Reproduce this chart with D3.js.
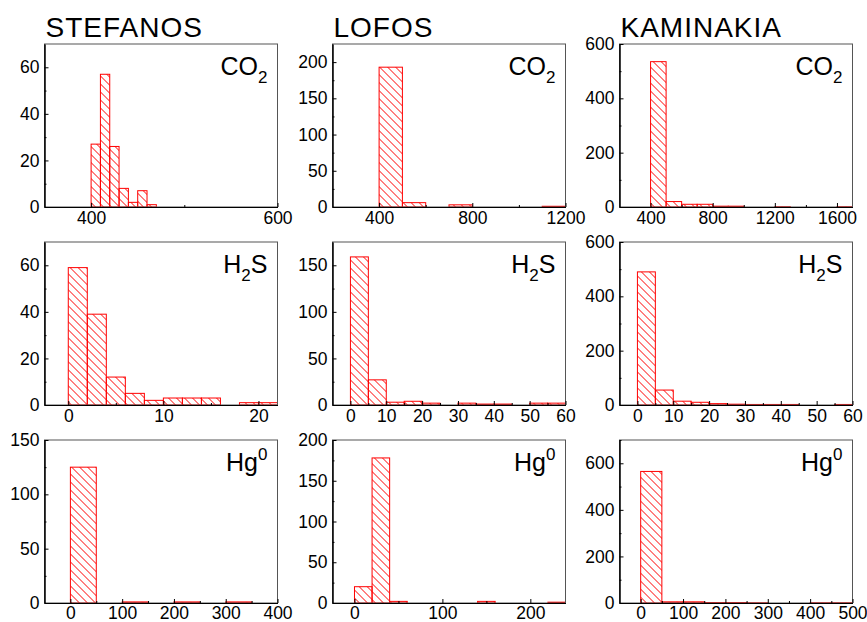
<!DOCTYPE html>
<html>
<head>
<meta charset="utf-8">
<script src="https://cdn.jsdelivr.net/npm/d3@7"></script>
<style>
  body { margin: 0; background: white; }
  svg { font-family: "Liberation Sans", Arial, sans-serif; }
</style>
</head>
<body>
<main></main>
<script>
// sites (columns) and gases (rows)
const sites = ["STEFANOS", "LOFOS", "KAMINAKIA"]
const gases = [["CO", "2", "sub"], ["H", "2", "sub", "S"], ["Hg", "0", "sup"]]

// histogram bins (left edge), bin width and counts
const stefanosCO2Bins = [400, 410, 420, 430, 440, 450, 460]
const stefanosCO2Counts = [27, 57, 26, 8, 2, 7, 1]
const lofosCO2Bins = [400, 500, 700, 1100]
const lofosCO2Counts = [193, 6, 3, 1]
const kaminakiaCO2Bins = [400, 500, 600, 700, 800, 900, 1200, 1600]
const kaminakiaCO2Counts = [535, 20, 10, 10, 3, 3, 1, 1]

const stefanosH2SBins = [0, 2, 4, 6, 8, 10, 12, 14, 18, 20]
const stefanosH2SCounts = [59, 39, 12, 5, 2, 3, 3, 3, 1, 1]
const lofosH2SBins = [0, 5, 10, 15, 20, 30, 35, 40, 50, 55]
const lofosH2SCounts = [159, 27, 3, 4, 2, 2, 1, 1, 2, 2]
const kaminakiaH2SBins = [0, 5, 10, 15, 20, 25, 30, 35, 40, 55]
const kaminakiaH2SCounts = [490, 55, 14, 10, 5, 3, 2, 2, 2, 2]

const stefanosHgBins = [0, 100, 200, 300]
const stefanosHgCounts = [125, 1, 1, 1]
const lofosHgBins = [0, 20, 40, 140, 220]
const lofosHgCounts = [20, 178, 2, 2, 1]
const kaminakiaHgBins = [0, 50, 100, 150, 200, 250, 400, 450]
const kaminakiaHgCounts = [565, 5, 5, 2, 2, 1, 1, 1]

const binWidths = [[10, 100, 100], [2, 5, 5], [50, 20, 50]]

// axis ranges and tick labels
const xDomains = [
    [[350, 600], [200, 1200], [200, 1700]],
    [[-2.5, 22], [-5, 60], [-5, 60]],
    [[-50, 400], [-25, 240], [-50, 500]]
]
const xTicks = [
    [[400, 600], [400, 800, 1200], [400, 800, 1200, 1600]],
    [[0, 10, 20], [0, 10, 20, 30, 40, 50, 60], [0, 10, 20, 30, 40, 50, 60]],
    [[0, 100, 200, 300, 400], [0, 100, 200], [0, 100, 200, 300, 400, 500]]
]
const xMinor = [
    [[500], [600, 1000], [600, 1000, 1400]],
    [[5, 15], [5, 15, 25, 35, 45, 55], [5, 15, 25, 35, 45, 55]],
    [[50, 150, 250, 350], [50, 150], [50, 150, 250, 350, 450]]
]
const yDomains = [[70, 225, 600], [70, 175, 600], [150, 200, 700]]
const yTicks = [
    [[0, 20, 40, 60], [0, 50, 100, 150, 200], [0, 200, 400, 600]],
    [[0, 20, 40, 60], [0, 50, 100, 150], [0, 200, 400, 600]],
    [[0, 50, 100, 150], [0, 50, 100, 150, 200], [0, 200, 400, 600]]
]
const yMinor = [
    [[10, 30, 50], [25, 75, 125, 175], [100, 300, 500]],
    [[10, 30, 50], [25, 75, 125], [100, 300, 500]],
    [[25, 75, 125], [25, 75, 125, 175], [100, 300, 500, 700]]
]

const bins = [
    [stefanosCO2Bins, lofosCO2Bins, kaminakiaCO2Bins],
    [stefanosH2SBins, lofosH2SBins, kaminakiaH2SBins],
    [stefanosHgBins, lofosHgBins, kaminakiaHgBins]
]
const counts = [
    [stefanosCO2Counts, lofosCO2Counts, kaminakiaCO2Counts],
    [stefanosH2SCounts, lofosH2SCounts, kaminakiaH2SCounts],
    [stefanosHgCounts, lofosHgCounts, kaminakiaHgCounts]
]

const svgWidth = 867
const svgHeight = 622

const colLeft = [44.5, 332.5, 619.5]
const rowTop = [44, 242, 440]
const panelWidth = 233
const panelHeight = 163

let svg = d3.select("main")
    .append("svg")
    .attr("width", svgWidth)
    .attr("height", svgHeight)

// red hatch, lines running top-left to bottom-right
let pattern = svg.append("defs")
    .append("pattern")
    .attr("id", "hatch")
    .attr("patternUnits", "userSpaceOnUse")
    .attr("width", 8)
    .attr("height", 8)

pattern.append("path")
    .attr("d", "M-2,-2 L10,10 M-2,6 L2,10 M6,-2 L10,2")
    .attr("stroke", "red")
    .attr("stroke-width", 1)

// site titles
sites.forEach((s, c) => {
    svg.append("text")
        .attr("x", colLeft[c] + 1)
        .attr("y", 37)
        .attr("font-size", 28)
        .attr("letter-spacing", 1)
        .attr("fill", "black")
        .text(s)
})

for (let r = 0; r < 3; r++) {
    for (let c = 0; c < 3; c++) {
        let g = svg.append("g")
            .attr("transform", `translate(${colLeft[c]}, ${rowTop[r]})`)

        let xScale = d3.scaleLinear()
            .domain(xDomains[r][c])
            .range([0, panelWidth])

        let yScale = d3.scaleLinear()
            .domain([0, yDomains[r][c]])
            .range([panelHeight, 0])

        let data = bins[r][c].map((b, i) => ({ x0: b, x1: b + binWidths[r][c], n: counts[r][c][i] }))

        g.selectAll("rect.bar")
            .data(data)
            .enter()
            .append("rect")
            .attr("class", "bar")
            .attr("x", d => xScale(d.x0))
            .attr("y", d => yScale(d.n))
            .attr("width", d => xScale(d.x1) - xScale(d.x0))
            .attr("height", d => yScale(0) - yScale(d.n))
            .attr("fill", "url(#hatch)")
            .attr("stroke", "red")
            .attr("stroke-width", 1)

        // frame
        g.append("rect")
            .attr("width", panelWidth)
            .attr("height", panelHeight)
            .attr("fill", "none")
            .attr("stroke", "#555")
            .attr("stroke-width", 1)

        let fmt = d3.format("d")
        let bottom = g.append("g")
            .attr("transform", `translate(0, ${panelHeight})`)
            .call(d3.axisBottom(xScale).tickValues(xTicks[r][c]).tickFormat(fmt).tickSize(-4).tickSizeOuter(0).tickPadding(r == 2 ? 4 : 5))
        let bottomMinor = g.append("g")
            .attr("transform", `translate(0, ${panelHeight})`)
            .call(d3.axisBottom(xScale).tickValues(xMinor[r][c]).tickSize(-2).tickSizeOuter(0).tickFormat(""))
        let left = g.append("g")
            .call(d3.axisLeft(yScale).tickValues(yTicks[r][c]).tickFormat(fmt).tickSize(-4).tickSizeOuter(0).tickPadding(5))
        let leftMinor = g.append("g")
            .call(d3.axisLeft(yScale).tickValues(yMinor[r][c]).tickSize(-2).tickSizeOuter(0).tickFormat(""))

        ;[bottom, bottomMinor, left, leftMinor].forEach(a => {
            a.select(".domain").attr("stroke", "black")
            a.selectAll("line").attr("stroke", "black")
            a.selectAll("text")
                .attr("font-family", "Liberation Sans, Arial, sans-serif")
                .attr("font-size", 17.5)
                .attr("fill", "black")
        })

        // gas label
        let gas = gases[r]
        let label = g.append("text")
            .attr("x", panelWidth - 10)
            .attr("y", 31)
            .attr("text-anchor", "end")
            .attr("font-size", 25)
            .attr("fill", "black")
        label.append("tspan").text(gas[0])
        label.append("tspan")
            .attr("font-size", 17)
            .attr("dy", gas[2] == "sub" ? 8 : -11)
            .text(gas[1])
        if (gas[3]) {
            label.append("tspan")
                .attr("dy", -8)
                .text(gas[3])
        }
    }
}
</script>
</body>
</html>
